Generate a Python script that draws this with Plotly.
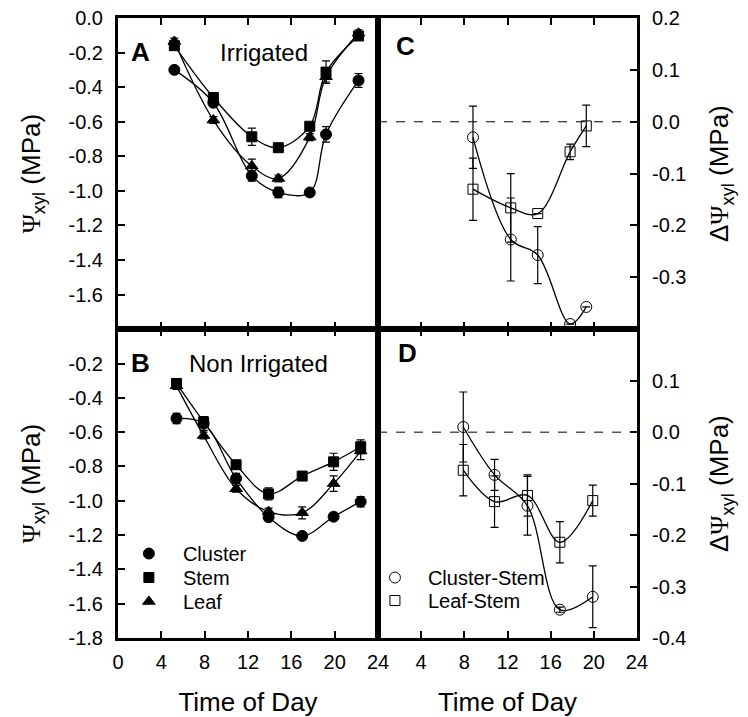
import plotly.graph_objects as go

# ---------------- data ----------------
# Panel A: Irrigated
a_time = [5.2, 8.8, 12.35, 14.8, 17.7, 19.2, 22.2]
a_cluster = [-0.30, -0.49, -0.913, -1.009, -1.009, -0.673, -0.361]
a_cluster_err = [0.02, 0.02, 0.03, 0.03, 0.02, 0.045, 0.04]
a_stem = [-0.16, -0.46, -0.687, -0.75, -0.626, -0.313, -0.104]
a_stem_err = [0.02, 0.02, 0.05, 0.02, 0.02, 0.065, 0.02]
a_leaf = [-0.136, -0.59, -0.856, -0.928, -0.689, -0.34, -0.088]
a_leaf_err = [0.02, 0.02, 0.04, 0.02, 0.02, 0.03, 0.02]

# Panel B: Non irrigated
b_time = [5.4, 7.9, 10.9, 13.9, 17.0, 19.9, 22.4]
b_cluster = [-0.52, -0.55, -0.87, -1.096, -1.205, -1.093, -1.005]
b_cluster_err = [0.03, 0.04, 0.03, 0.02, 0.02, 0.02, 0.03]
b_stem = [-0.316, -0.54, -0.79, -0.96, -0.856, -0.773, -0.685]
b_stem_err = [0.02, 0.02, 0.02, 0.035, 0.02, 0.05, 0.04]
b_leaf = [-0.33, -0.62, -0.93, -1.063, -1.07, -0.90, -0.71]
b_leaf_err = [0.02, 0.02, 0.02, 0.02, 0.035, 0.045, 0.05]

# Panel C: differences, irrigated
c_time = [8.8, 12.3, 14.8, 17.8, 19.3]
c_cluster_stem = [-0.03, -0.227, -0.257, -0.39, -0.357]
c_cluster_stem_err = [0.06, 0.08, 0.055, 0.0, 0.0]
c_leaf_stem = [-0.13, -0.166, -0.177, -0.058, -0.008]
c_leaf_stem_err = [0.06, 0.066, 0.0, 0.015, 0.04]

# Panel D: differences, non irrigated
d_time = [7.9, 10.8, 13.85, 16.85, 19.9]
d_cluster_stem = [0.01, -0.083, -0.143, -0.345, -0.32]
d_cluster_stem_err = [0.068, 0.03, 0.057, 0.005, 0.06]
d_leaf_stem = [-0.074, -0.135, -0.123, -0.214, -0.133]
d_leaf_stem_err = [0.05, 0.05, 0.04, 0.04, 0.03]

x_ticks = [0, 4, 8, 12, 16, 20, 24]
x_labels_left = ["0", "4", "8", "12", "16", "20", "24"]
x_labels_right = [" ", "4", "8", "12", "16", "20", "24"]
psi_ticks = [0.0, -0.2, -0.4, -0.6, -0.8, -1.0, -1.2, -1.4, -1.6, -1.8]
psi_labels_a = ["0.0", "-0.2", "-0.4", "-0.6", "-0.8", "-1.0", "-1.2", "-1.4", "-1.6", " "]
psi_labels_b = [" ", "-0.2", "-0.4", "-0.6", "-0.8", "-1.0", "-1.2", "-1.4", "-1.6", "-1.8"]
d_ticks = [0.2, 0.1, 0.0, -0.1, -0.2, -0.3, -0.4]
d_labels_c = ["0.2", "0.1", "0.0", "-0.1", "-0.2", "-0.3", " "]
d_labels_d = [" ", "0.1", "0.0", "-0.1", "-0.2", "-0.3", "-0.4"]

FONT = "Liberation Sans, Arial, sans-serif"
BLACK = "black"

fig = go.Figure()


def add_series(x, y, err, symbol, size, xa, ya, name, legend=None, lw=1.0):
    fig.add_trace(go.Scatter(
        x=x, y=y, mode="lines", xaxis=xa, yaxis=ya,
        line=dict(color=BLACK, width=1.3, shape="spline", smoothing=1.0),
        showlegend=False, hoverinfo="skip"))
    fig.add_trace(go.Scatter(
        x=x, y=y, mode="markers", xaxis=xa, yaxis=ya, name=name,
        marker=dict(symbol=symbol, size=size, color=BLACK,
                    line=dict(color=BLACK, width=lw)),
        error_y=dict(type="data", array=err, color=BLACK, thickness=1.2, width=4),
        showlegend=legend is not None, legend=legend or "legend"))


# Panel A
add_series(a_time, a_cluster, a_cluster_err, "circle", 11, "x", "y", "Cluster")
add_series(a_time, a_stem, a_stem_err, "square", 10, "x", "y", "Stem")
add_series(a_time, a_leaf, a_leaf_err, "triangle-up", 11, "x", "y", "Leaf")
# Panel B (each legend entry in its own small legend box)
add_series(b_time, b_cluster, b_cluster_err, "circle", 11, "x2", "y2", "Cluster", "legend")
add_series(b_time, b_stem, b_stem_err, "square", 10, "x2", "y2", "Stem", "legend3")
add_series(b_time, b_leaf, b_leaf_err, "triangle-up", 11, "x2", "y2", "Leaf", "legend4")
# Panel C
add_series(c_time, c_cluster_stem, c_cluster_stem_err, "circle-open", 11, "x3", "y3", "Cluster-Stem")
add_series(c_time, c_leaf_stem, c_leaf_stem_err, "square-open", 10, "x3", "y3", "Leaf-Stem")
# Panel D
add_series(d_time, d_cluster_stem, d_cluster_stem_err, "circle-open", 11, "x4", "y4", "Cluster-Stem", "legend2")
add_series(d_time, d_leaf_stem, d_leaf_stem_err, "square-open", 10, "x4", "y4", "Leaf-Stem", "legend5")

# zero reference lines in C and D
for xa, ya in (("x3", "y3"), ("x4", "y4")):
    fig.add_shape(type="line", xref=f"{xa} domain", yref=ya, x0=0, x1=1, y0=0, y1=0,
                  line=dict(color=BLACK, width=1, dash="dash"))

TICKFONT = dict(family=FONT, size=20, color=BLACK)
TITLEFONT = dict(family=FONT, size=26, color=BLACK)

common_axis = dict(showline=True, linecolor=BLACK, linewidth=3, ticks="inside",
                   ticklen=7, tickwidth=1.5, tickcolor=BLACK, showgrid=False,
                   zeroline=False, tickfont=TICKFONT, automargin=False)

LEFT = [0, 0.501]
RIGHT = [0.501, 1]
TOP = [0.498, 1]
BOTTOM = [0, 0.498]

psi_title = "<span style='font-family:Liberation Serif'>Ψ</span><sub>xyl</sub> (MPa)"
dpsi_title = "Δ<span style='font-family:Liberation Serif'>Ψ</span><sub>xyl</sub> (MPa)"

LEGFONT = dict(family=FONT, size=20, color=BLACK)


def leg(x, y, w):
    return dict(x=x, y=y, xanchor="left", yanchor="top", font=LEGFONT,
                itemwidth=w, bgcolor="rgba(0,0,0,0)", tracegroupgap=0)


fig.update_layout(
    width=748, height=717,
    margin=dict(l=118, r=111, t=18, b=79, autoexpand=False),
    paper_bgcolor="white", plot_bgcolor="white",
    font=dict(family=FONT, color=BLACK),
    xaxis=dict(domain=LEFT, anchor="y", range=[0, 24], tickvals=x_ticks,
               showticklabels=False, mirror="ticks", **common_axis),
    xaxis2=dict(domain=LEFT, anchor="y2", range=[0, 24], tickvals=x_ticks,
                ticktext=x_labels_left, mirror="ticks", ticklabelstandoff=4,
                title=dict(text="Time of Day", font=TITLEFONT, standoff=24),
                **common_axis),
    xaxis3=dict(domain=RIGHT, anchor="y3", range=[0, 24], tickvals=x_ticks,
                showticklabels=False, mirror="ticks", **common_axis),
    xaxis4=dict(domain=RIGHT, anchor="y4", range=[0, 24], tickvals=x_ticks,
                ticktext=x_labels_right, mirror="ticks", ticklabelstandoff=4,
                title=dict(text="Time of Day", font=TITLEFONT, standoff=24),
                **common_axis),
    yaxis=dict(domain=TOP, anchor="x", range=[-1.8, 0], tickvals=psi_ticks,
               ticktext=psi_labels_a, mirror=True, ticklabelstandoff=8,
               title=dict(text=psi_title, font=TITLEFONT, standoff=21),
               **common_axis),
    yaxis2=dict(domain=BOTTOM, anchor="x2", range=[-1.8, 0], tickvals=psi_ticks,
                ticktext=psi_labels_b, mirror=True, ticklabelstandoff=8,
                title=dict(text=psi_title, font=TITLEFONT, standoff=21),
                **common_axis),
    yaxis3=dict(domain=TOP, anchor="x3", side="right", range=[-0.4, 0.2],
                tickvals=d_ticks, ticktext=d_labels_c, mirror=True,
                ticklabelstandoff=8,
                title=dict(text=dpsi_title, font=TITLEFONT, standoff=25),
                **common_axis),
    yaxis4=dict(domain=BOTTOM, anchor="x4", side="right", range=[-0.4, 0.2],
                tickvals=d_ticks, ticktext=d_labels_d, mirror=True,
                ticklabelstandoff=8,
                title=dict(text=dpsi_title, font=TITLEFONT, standoff=25),
                **common_axis),
    legend=leg(-0.006, 0.1677, 58),
    legend3=leg(-0.006, 0.129, 58),
    legend4=leg(-0.006, 0.0903, 58),
    legend2=leg(0.47, 0.129, 56),
    legend5=leg(0.47, 0.0919, 56),
)

LABEL_BOLD = dict(family=FONT, size=26, color=BLACK)
LABEL = dict(family=FONT, size=24, color=BLACK)
annots = [
    ("x domain", "y domain", 0.088, 0.89, "<b>A</b>", LABEL_BOLD),
    ("x domain", "y domain", 0.56, 0.89, "Irrigated", LABEL),
    ("x2 domain", "y2 domain", 0.085, 0.89, "<b>B</b>", LABEL_BOLD),
    ("x2 domain", "y2 domain", 0.542, 0.89, "Non Irrigated", LABEL),
    ("x3 domain", "y3 domain", 0.108, 0.91, "<b>C</b>", LABEL_BOLD),
    ("x4 domain", "y4 domain", 0.112, 0.922, "<b>D</b>", LABEL_BOLD),
]
for xr, yr, x, y, t, f in annots:
    fig.add_annotation(xref=xr, yref=yr, x=x, y=y, text=t, showarrow=False,
                       font=f, xanchor="center", yanchor="middle")

fig.write_html("out.html", config={"displayModeBar": False},
               post_script="document.body.style.margin='0';")
